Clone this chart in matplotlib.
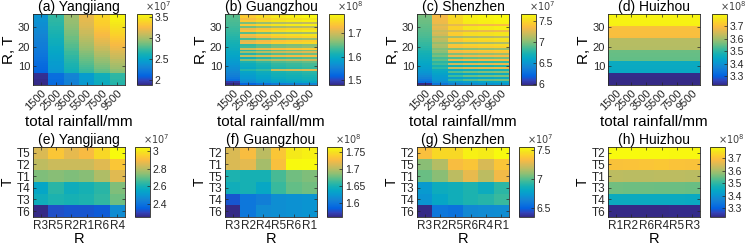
import numpy as np
import matplotlib
matplotlib.use("Agg")
import matplotlib.pyplot as plt
from matplotlib.colors import LinearSegmentedColormap
from matplotlib.ticker import FuncFormatter

plt.rcParams["font.family"] = ["Liberation Sans", "DejaVu Sans"]

# MATLAB parula, sampled from its 64 entries
PARULA = [
    (0.2081, 0.1663, 0.5292), (0.1959, 0.2645, 0.7279), (0.0117, 0.3875, 0.8820),
    (0.0498, 0.4586, 0.8641), (0.0793, 0.5200, 0.8312), (0.0343, 0.5966, 0.8199),
    (0.0228, 0.6535, 0.7768), (0.0843, 0.6928, 0.7062), (0.2178, 0.7250, 0.6193),
    (0.3953, 0.7459, 0.5244), (0.5709, 0.7485, 0.4494), (0.7184, 0.7411, 0.3905),
    (0.8507, 0.7299, 0.3360), (0.9739, 0.7314, 0.2666), (0.9880, 0.8066, 0.1794),
    (0.9589, 0.8949, 0.1132), (0.9763, 0.9831, 0.0538),
]
cmap = LinearSegmentedColormap.from_list("parula", PARULA)

RAINFALL = ["1500", "2500", "3500", "5500", "7500", "9500"]
TITLES_TOP = ["(a) Yangjiang", "(b) Guangzhou", "(c) Shenzhen", "(d) Huizhou"]
TITLES_BOTTOM = ["(e) Yangjiang", "(f) Guangzhou", "(g) Shenzhen", "(h) Huizhou"]

# top row: 36 (R,T) combinations (row 1 at bottom) x 6 rainfall totals
yangjiang_top = [
    [1.88, 2.14, 2.28, 2.42, 2.56, 2.67],
    [1.89, 2.15, 2.29, 2.43, 2.57, 2.68],
    [1.89, 2.15, 2.29, 2.43, 2.58, 2.69],
    [1.90, 2.16, 2.30, 2.44, 2.58, 2.70],
    [1.90, 2.16, 2.30, 2.44, 2.59, 2.70],
    [1.91, 2.17, 2.31, 2.45, 2.60, 2.71],
    [2.11, 2.40, 2.60, 2.72, 2.82, 2.92],
    [2.12, 2.41, 2.61, 2.74, 2.84, 2.94],
    [2.13, 2.42, 2.63, 2.76, 2.87, 2.97],
    [2.14, 2.43, 2.64, 2.78, 2.89, 2.99],
    [2.15, 2.44, 2.65, 2.80, 2.91, 3.01],
    [2.16, 2.45, 2.67, 2.82, 2.94, 3.04],
    [2.18, 2.47, 2.68, 2.84, 2.96, 3.06],
    [2.19, 2.48, 2.70, 2.86, 2.98, 3.09],
    [2.20, 2.49, 2.71, 2.88, 3.01, 3.11],
    [2.21, 2.50, 2.73, 2.90, 3.03, 3.13],
    [2.22, 2.52, 2.74, 2.92, 3.05, 3.16],
    [2.23, 2.53, 2.76, 2.94, 3.08, 3.18],
    [2.24, 2.54, 2.77, 2.96, 3.10, 3.21],
    [2.25, 2.55, 2.79, 2.98, 3.12, 3.23],
    [2.26, 2.57, 2.80, 3.00, 3.15, 3.26],
    [2.27, 2.58, 2.82, 3.01, 3.17, 3.28],
    [2.28, 2.59, 2.83, 3.03, 3.19, 3.30],
    [2.29, 2.60, 2.85, 3.05, 3.21, 3.33],
    [2.30, 2.62, 2.86, 3.07, 3.24, 3.35],
    [2.31, 2.63, 2.88, 3.09, 3.26, 3.38],
    [2.32, 2.64, 2.89, 3.11, 3.28, 3.40],
    [2.33, 2.65, 2.90, 3.12, 3.30, 3.42],
    [2.34, 2.66, 2.92, 3.14, 3.32, 3.44],
    [2.35, 2.67, 2.93, 3.16, 3.34, 3.46],
    [2.36, 2.68, 2.94, 3.17, 3.36, 3.48],
    [2.37, 2.69, 2.95, 3.18, 3.37, 3.50],
    [2.38, 2.70, 2.96, 3.19, 3.38, 3.52],
    [2.38, 2.71, 2.97, 3.20, 3.39, 3.54],
    [2.39, 2.71, 2.97, 3.21, 3.40, 3.55],
    [2.40, 2.72, 2.98, 3.22, 3.41, 3.58],
]

guangzhou_top = [
    [1.478, 1.520, 1.533, 1.545, 1.550, 1.555],
    [1.490, 1.560, 1.573, 1.585, 1.590, 1.595],
    [1.530, 1.570, 1.583, 1.595, 1.600, 1.605],
    [1.540, 1.575, 1.588, 1.600, 1.605, 1.610],
    [1.548, 1.580, 1.593, 1.605, 1.610, 1.615],
    [1.553, 1.585, 1.598, 1.610, 1.615, 1.620],
    [1.558, 1.590, 1.603, 1.615, 1.620, 1.625],
    [1.562, 1.620, 1.630, 1.700, 1.705, 1.710],
    [1.566, 1.595, 1.608, 1.620, 1.625, 1.630],
    [1.570, 1.600, 1.613, 1.625, 1.630, 1.635],
    [1.574, 1.603, 1.616, 1.628, 1.633, 1.638],
    [1.578, 1.615, 1.628, 1.640, 1.645, 1.650],
    [1.582, 1.665, 1.678, 1.690, 1.695, 1.700],
    [1.586, 1.610, 1.623, 1.635, 1.640, 1.645],
    [1.590, 1.695, 1.708, 1.720, 1.725, 1.730],
    [1.594, 1.620, 1.633, 1.645, 1.650, 1.655],
    [1.597, 1.675, 1.688, 1.700, 1.705, 1.710],
    [1.600, 1.625, 1.638, 1.650, 1.655, 1.660],
    [1.603, 1.705, 1.718, 1.730, 1.735, 1.740],
    [1.606, 1.635, 1.648, 1.660, 1.665, 1.670],
    [1.609, 1.630, 1.643, 1.655, 1.660, 1.665],
    [1.612, 1.720, 1.733, 1.745, 1.750, 1.755],
    [1.615, 1.710, 1.723, 1.735, 1.740, 1.745],
    [1.618, 1.640, 1.653, 1.665, 1.670, 1.675],
    [1.621, 1.715, 1.728, 1.740, 1.745, 1.750],
    [1.624, 1.730, 1.743, 1.755, 1.760, 1.765],
    [1.627, 1.645, 1.658, 1.670, 1.675, 1.680],
    [1.630, 1.735, 1.748, 1.760, 1.765, 1.770],
    [1.632, 1.720, 1.733, 1.745, 1.750, 1.755],
    [1.634, 1.655, 1.668, 1.680, 1.685, 1.690],
    [1.636, 1.740, 1.753, 1.765, 1.770, 1.775],
    [1.638, 1.660, 1.673, 1.685, 1.690, 1.695],
    [1.640, 1.740, 1.753, 1.765, 1.770, 1.775],
    [1.642, 1.730, 1.743, 1.755, 1.760, 1.765],
    [1.644, 1.745, 1.758, 1.770, 1.775, 1.780],
    [1.646, 1.735, 1.748, 1.760, 1.770, 1.784],
]

shenzhen_top = [
    [5.97, 6.30, 6.40, 6.45, 6.48, 6.50],
    [6.25, 6.45, 6.52, 6.57, 6.60, 6.62],
    [6.32, 6.50, 6.80, 6.90, 6.95, 6.97],
    [6.38, 6.52, 6.57, 6.60, 6.62, 6.64],
    [6.43, 6.55, 6.85, 6.95, 6.98, 7.00],
    [6.47, 6.58, 6.60, 6.63, 6.65, 6.67],
    [6.50, 6.62, 6.90, 6.97, 7.00, 7.02],
    [6.53, 6.65, 6.65, 6.68, 6.70, 6.72],
    [6.56, 6.80, 7.20, 7.27, 7.30, 7.32],
    [6.58, 6.72, 6.70, 6.73, 6.75, 6.77],
    [6.61, 6.85, 7.22, 7.28, 7.30, 7.32],
    [6.63, 6.78, 6.75, 6.78, 6.80, 6.82],
    [6.65, 6.92, 7.28, 7.33, 7.35, 7.37],
    [6.67, 6.85, 6.88, 6.93, 6.95, 6.97],
    [6.69, 6.98, 7.30, 7.33, 7.35, 7.37],
    [6.71, 6.92, 7.00, 7.03, 7.05, 7.07],
    [6.73, 7.02, 7.35, 7.38, 7.40, 7.42],
    [6.75, 7.05, 7.40, 7.43, 7.45, 7.47],
    [6.77, 7.00, 7.00, 7.03, 7.05, 7.07],
    [6.79, 7.10, 7.40, 7.43, 7.45, 7.47],
    [6.81, 7.12, 7.42, 7.48, 7.50, 7.52],
    [6.82, 7.05, 7.05, 7.08, 7.10, 7.12],
    [6.84, 7.15, 7.42, 7.48, 7.50, 7.52],
    [6.85, 7.18, 7.45, 7.53, 7.55, 7.57],
    [6.87, 7.10, 7.10, 7.13, 7.15, 7.17],
    [6.88, 7.22, 7.45, 7.53, 7.55, 7.57],
    [6.89, 7.25, 7.46, 7.53, 7.55, 7.57],
    [6.90, 7.20, 7.25, 7.28, 7.30, 7.32],
    [6.91, 7.28, 7.48, 7.58, 7.60, 7.62],
    [6.92, 7.30, 7.48, 7.58, 7.60, 7.62],
    [6.93, 7.25, 7.30, 7.33, 7.35, 7.37],
    [6.94, 7.32, 7.50, 7.60, 7.62, 7.64],
    [6.95, 7.33, 7.50, 7.61, 7.63, 7.65],
    [6.96, 7.34, 7.51, 7.62, 7.64, 7.66],
    [6.97, 7.35, 7.52, 7.63, 7.65, 7.67],
    [6.98, 7.36, 7.52, 7.63, 7.66, 7.68],
]

huizhou_top = [
    [3.230, 3.230, 3.230, 3.230, 3.230, 3.230],
    [3.231, 3.231, 3.231, 3.231, 3.231, 3.231],
    [3.232, 3.232, 3.232, 3.232, 3.232, 3.232],
    [3.232, 3.232, 3.232, 3.232, 3.232, 3.232],
    [3.233, 3.233, 3.233, 3.233, 3.233, 3.233],
    [3.233, 3.233, 3.233, 3.233, 3.233, 3.233],
    [3.450, 3.450, 3.450, 3.450, 3.450, 3.450],
    [3.452, 3.452, 3.452, 3.452, 3.452, 3.452],
    [3.453, 3.453, 3.453, 3.453, 3.453, 3.453],
    [3.454, 3.454, 3.454, 3.454, 3.454, 3.454],
    [3.455, 3.455, 3.455, 3.455, 3.455, 3.455],
    [3.456, 3.456, 3.456, 3.456, 3.456, 3.456],
    [3.549, 3.549, 3.549, 3.549, 3.549, 3.549],
    [3.550, 3.550, 3.550, 3.550, 3.550, 3.550],
    [3.551, 3.551, 3.551, 3.551, 3.551, 3.551],
    [3.552, 3.552, 3.552, 3.552, 3.552, 3.552],
    [3.553, 3.553, 3.553, 3.553, 3.553, 3.553],
    [3.555, 3.555, 3.555, 3.555, 3.555, 3.555],
    [3.618, 3.618, 3.618, 3.618, 3.618, 3.618],
    [3.619, 3.619, 3.619, 3.619, 3.619, 3.619],
    [3.620, 3.620, 3.620, 3.620, 3.620, 3.620],
    [3.620, 3.620, 3.620, 3.620, 3.620, 3.620],
    [3.621, 3.621, 3.621, 3.621, 3.621, 3.621],
    [3.622, 3.622, 3.622, 3.622, 3.622, 3.622],
    [3.699, 3.699, 3.699, 3.699, 3.699, 3.699],
    [3.700, 3.700, 3.700, 3.700, 3.700, 3.700],
    [3.701, 3.701, 3.701, 3.701, 3.701, 3.701],
    [3.702, 3.702, 3.702, 3.702, 3.702, 3.702],
    [3.703, 3.703, 3.703, 3.703, 3.703, 3.703],
    [3.708, 3.708, 3.708, 3.708, 3.708, 3.708],
    [3.784, 3.784, 3.784, 3.784, 3.784, 3.784],
    [3.785, 3.785, 3.785, 3.785, 3.785, 3.785],
    [3.786, 3.786, 3.786, 3.786, 3.786, 3.786],
    [3.787, 3.787, 3.787, 3.787, 3.787, 3.787],
    [3.788, 3.788, 3.788, 3.788, 3.788, 3.788],
    [3.800, 3.800, 3.800, 3.800, 3.800, 3.800],
]

# bottom row: T (rows, top to bottom) x R (columns)
yangjiang_t = ["T5", "T2", "T1", "T4", "T3", "T6"]
yangjiang_r = ["R3", "R5", "R2", "R1", "R6", "R4"]
yangjiang_rt = [
    [2.85, 2.93, 2.87, 2.90, 2.97, 3.05],
    [2.81, 2.83, 2.83, 2.83, 2.86, 2.93],
    [2.73, 2.74, 2.73, 2.74, 2.79, 2.86],
    [2.55, 2.63, 2.58, 2.60, 2.63, 2.73],
    [2.58, 2.61, 2.60, 2.61, 2.64, 2.71],
    [2.25, 2.32, 2.33, 2.33, 2.34, 2.47],
]

guangzhou_t = ["T2", "T1", "T5", "T3", "T4", "T6"]
guangzhou_r = ["R3", "R2", "R4", "R5", "R6", "R1"]
guangzhou_rt = [
    [1.713, 1.727, 1.702, 1.733, 1.753, 1.757],
    [1.713, 1.717, 1.694, 1.729, 1.762, 1.763],
    [1.652, 1.650, 1.650, 1.666, 1.678, 1.682],
    [1.646, 1.650, 1.638, 1.662, 1.674, 1.678],
    [1.581, 1.601, 1.607, 1.618, 1.620, 1.622],
    [1.561, 1.601, 1.616, 1.618, 1.620, 1.622],
]

shenzhen_t = ["T2", "T5", "T1", "T3", "T4", "T6"]
shenzhen_r = ["R3", "R2", "R5", "R6", "R4", "R1"]
shenzhen_rt = [
    [7.35, 7.44, 7.44, 7.52, 7.50, 7.557],
    [7.09, 7.17, 7.34, 7.37, 7.25, 7.37],
    [7.03, 7.09, 7.19, 7.29, 7.19, 7.31],
    [6.73, 6.83, 6.85, 6.89, 6.83, 6.92],
    [6.71, 6.80, 6.85, 6.89, 6.91, 6.95],
    [6.34, 6.58, 6.56, 6.66, 6.67, 6.68],
]

huizhou_t = ["T2", "T5", "T1", "T3", "T4", "T6"]
huizhou_r = ["R1", "R2", "R6", "R4", "R5", "R3"]
huizhou_rt = [
    [3.790, 3.788, 3.787, 3.786, 3.785, 3.784],
    [3.700, 3.702, 3.703, 3.708, 3.701, 3.699],
    [3.620, 3.618, 3.619, 3.621, 3.620, 3.618],
    [3.555, 3.553, 3.552, 3.551, 3.550, 3.549],
    [3.455, 3.454, 3.453, 3.452, 3.451, 3.450],
    [3.230, 3.231, 3.232, 3.232, 3.233, 3.233],
]

top_data = [yangjiang_top, guangzhou_top, shenzhen_top, huizhou_top]
bottom_data = [yangjiang_rt, guangzhou_rt, shenzhen_rt, huizhou_rt]
bottom_t = [yangjiang_t, guangzhou_t, shenzhen_t, huizhou_t]
bottom_r = [yangjiang_r, guangzhou_r, shenzhen_r, huizhou_r]
exponents = [7, 8, 7, 8]
top_cticks = [[2, 2.5, 3, 3.5], [1.5, 1.6, 1.7], [6, 6.5, 7, 7.5], [3.3, 3.4, 3.5, 3.6, 3.7]]
bottom_cticks = [[2.4, 2.6, 2.8, 3], [1.6, 1.65, 1.7, 1.75], [6.5, 7, 7.5], [3.3, 3.4, 3.5, 3.6, 3.7]]

W, H = 750, 245
DARK = "#262626"


def px(x, y, w, h):
    return [x / W, 1 - (y + h) / H, w / W, h / H]


def style_axes(ax, size):
    ax.tick_params(direction="in", length=2, width=0.5, colors=DARK,
                   top=True, right=True, labelsize=size, pad=2)
    for s in ax.spines.values():
        s.set_linewidth(0.6)
        s.set_color(DARK)


def add_colorbar(fig, im, rect, ticks, exp):
    cax = fig.add_axes(rect)
    cb = fig.colorbar(im, cax=cax, ticks=ticks)
    cb.ax.yaxis.set_major_formatter(FuncFormatter(lambda v, p: f"{v:g}"))
    cb.ax.tick_params(direction="in", length=2.5, width=0.5, colors=DARK,
                      labelsize=7.5, pad=2)
    cb.outline.set_linewidth(0.6)
    cb.outline.set_edgecolor(DARK)
    cax.text(0.55, 1.01, r"$\times10^{%d}$" % exp, transform=cax.transAxes,
             fontsize=7, ha="left", va="bottom", color="#404040")


fig = plt.figure(figsize=(W / 100, H / 100), dpi=100)
lefts = [33, 225, 417, 608]

for i in range(4):
    # top row: rainfall vs (R,T) combination
    ax = fig.add_axes(px(lefts[i], 14, 92, 71))
    im = ax.imshow(np.array(top_data[i]), cmap=cmap, origin="lower", aspect="auto",
                   extent=(0.5, 6.5, 0.5, 36.5), interpolation="nearest")
    ax.set_xticks(range(1, 7))
    ax.set_xticklabels(RAINFALL, rotation=45, ha="right", va="top",
                       rotation_mode="anchor")
    ax.set_yticks([10, 20, 30])
    style_axes(ax, 8)
    ax.set_title(TITLES_TOP[i], fontsize=10, pad=2)
    ax.set_xlabel("total rainfall/mm", fontsize=11, labelpad=2)
    ax.set_ylabel("R, T", fontsize=11, labelpad=1)
    add_colorbar(fig, im, px(lefts[i] + 104, 14, 15, 71), top_cticks[i], exponents[i])

    # bottom row: R vs T
    ax = fig.add_axes(px(lefts[i], 147, 92, 70))
    im = ax.imshow(np.array(bottom_data[i]), cmap=cmap, aspect="auto",
                   interpolation="nearest")
    ax.set_xticks(range(6))
    ax.set_xticklabels(bottom_r[i])
    ax.set_yticks(range(6))
    ax.set_yticklabels(bottom_t[i])
    style_axes(ax, 8.5)
    ax.set_title(TITLES_BOTTOM[i], fontsize=10, pad=2)
    ax.set_xlabel("R", fontsize=10.5, labelpad=0.5)
    ax.set_ylabel("T", fontsize=10, labelpad=1.5)
    add_colorbar(fig, im, px(lefts[i] + 102, 147, 15, 70), bottom_cticks[i], exponents[i])

fig.savefig("out.png", dpi=100)
